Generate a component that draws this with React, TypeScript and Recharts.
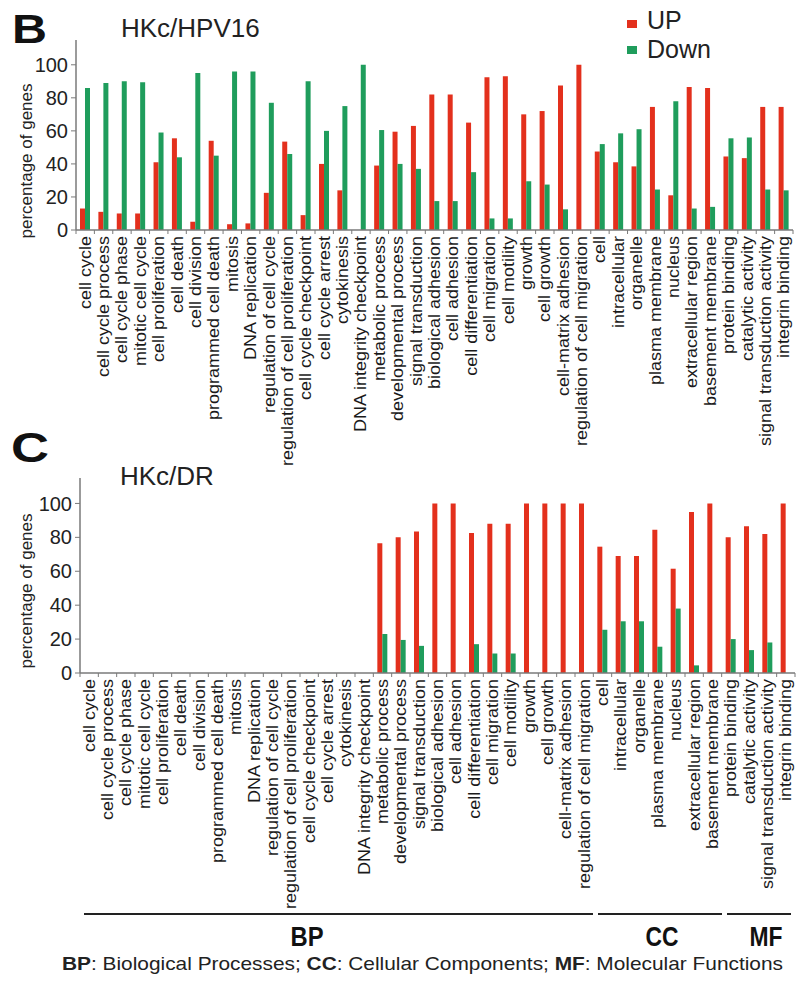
import React from 'react';
import { BarChart, Bar, XAxis, YAxis } from 'recharts';

const categories = [
  'cell cycle', 'cell cycle process', 'cell cycle phase', 'mitotic cell cycle', 'cell proliferation',
  'cell death', 'cell division', 'programmed cell death', 'mitosis', 'DNA replication',
  'regulation of cell cycle', 'regulation of cell proliferation', 'cell cycle checkpoint', 'cell cycle arrest', 'cytokinesis',
  'DNA integrity checkpoint', 'metabolic process', 'developmental process', 'signal transduction', 'biological adhesion',
  'cell adhesion', 'cell differentiation', 'cell migration', 'cell motility', 'growth',
  'cell growth', 'cell-matrix adhesion', 'regulation of cell migration', 'cell', 'intracellular',
  'organelle', 'plasma membrane', 'nucleus', 'extracellular region', 'basement membrane',
  'protein binding', 'catalytic activity', 'signal transduction activity', 'integrin binding',
];

const hpvUp = [13, 11, 10, 10, 41, 55.5, 5, 54, 3.5, 4, 22.5, 53.5, 9, 40, 24, 0, 39, 59.5, 63, 82, 82, 65, 92.5, 93, 70, 72, 87.5, 100, 47.5, 41, 38.5, 74.5, 21, 86.5, 86, 44.5, 43.5, 74.5, 74.5];
const hpvDown = [86, 89, 90, 89.5, 59, 44, 95, 45, 96, 96, 77, 46, 90, 60, 75, 100, 60.5, 40, 37, 17.5, 17.5, 35, 7, 7, 29.5, 27.5, 12.5, 0, 52, 58.5, 61, 24.5, 78, 13, 14, 55.5, 56, 24.5, 24];
const drUp = [0, 0, 0, 0, 0, 0, 0, 0, 0, 0, 0, 0, 0, 0, 0, 0, 76.5, 80, 83.5, 100, 100, 82.5, 88, 88, 100, 100, 100, 100, 74.5, 69, 69, 84.5, 61.5, 95, 100, 80, 86.5, 82, 100];
const drDown = [0, 0, 0, 0, 0, 0, 0, 0, 0, 0, 0, 0, 0, 0, 0, 0, 23, 19.5, 16, 0, 0, 17, 11.5, 11.5, 0, 0, 0, 0, 25.5, 30.5, 30.5, 15.5, 38, 4.5, 0, 20, 13.5, 18, 0];

const yTicks = [0, 20, 40, 60, 80, 100];
const seriesNames = ['UP', 'Down'];
const groupNames = ['BP', 'CC', 'MF'];
const footnote = [
  { b: 'BP', t: ': Biological Processes; ' },
  { b: 'CC', t: ': Cellular Components; ' },
  { b: 'MF', t: ': Molecular Functions' },
];

const RED = '#e3301d';
const GREEN = '#1f9d5c';
const AXIS = '#7a7a7a';
const FONT = '"Liberation Sans", Arial, Helvetica, sans-serif';

const hpvData = categories.map((c, i) => ({ name: c, up: hpvUp[i], down: hpvDown[i] }));
const drData = categories.map((c, i) => ({ name: c, up: drUp[i], down: drDown[i] }));

const makeTick = (step: number) => (props: any) => {
  const { x, y, payload, index } = props;
  const left = x - step / 2;
  return (
    <g>
      <line x1={left} y1={y} x2={left} y2={y + 4} stroke={AXIS} strokeWidth={1} />
      {index === categories.length - 1 && (
        <line x1={x + step / 2} y1={y} x2={x + step / 2} y2={y + 4} stroke={AXIS} strokeWidth={1} />
      )}
      <text
        transform={`translate(${x + 5.5},${y + 6}) rotate(-90) scale(1.125,1)`}
        textAnchor="end"
        fontSize={16}
        fill="#1a1a1a"
        fontFamily={FONT}
      >
        {payload.value}
      </text>
    </g>
  );
};

const yLabel = (cy: number) => () => (
  <text
    transform={`translate(32,${cy}) rotate(-90)`}
    textAnchor="middle"
    fontSize={17}
    fill="#222"
    fontFamily={FONT}
  >
    percentage of genes
  </text>
);

interface PanelProps {
  data: any[];
  top: number;
  yAxisWidth: number;
  marginTop: number;
  marginRight: number;
  xAxisHeight: number;
  labelCy: number;
}

const Panel = ({ data, top, yAxisWidth, marginTop, marginRight, xAxisHeight, labelCy }: PanelProps) => {
  const width = 800;
  const step = (width - yAxisWidth - marginRight) / categories.length;
  return (
    <div style={{ position: 'absolute', left: 0, top }}>
      <BarChart
        width={width}
        height={480}
        data={data}
        margin={{ top: marginTop, right: marginRight, left: 0, bottom: 0 }}
        barGap={0}
      >
        <XAxis
          dataKey="name"
          interval={0}
          height={xAxisHeight}
          tickLine={false}
          tickSize={0}
          tickMargin={0}
          axisLine={{ stroke: AXIS, strokeWidth: 1.5 }}
          tick={makeTick(step)}
        />
        <YAxis
          width={yAxisWidth}
          domain={[0, 115]}
          ticks={yTicks}
          interval={0}
          tickSize={5}
          tickMargin={3}
          axisLine={{ stroke: AXIS, strokeWidth: 1.5 }}
          tickLine={{ stroke: AXIS }}
          tick={{ fontSize: 20, fill: '#222', fontFamily: FONT }}
          label={{ content: yLabel(labelCy - top) } as any}
        />
        <Bar dataKey="up" name="UP" fill={RED} barSize={5} isAnimationActive={false} />
        <Bar dataKey="down" name="Down" fill={GREEN} barSize={5} isAnimationActive={false} />
      </BarChart>
    </div>
  );
};

export default function App() {
  return (
    <div
      style={{
        position: 'absolute',
        left: 0,
        top: 0,
        width: 800,
        height: 985,
        background: '#fff',
        fontFamily: FONT,
        overflow: 'hidden',
      }}
    >
      <Panel data={hpvData} top={0} yAxisWidth={76} marginTop={40} marginRight={7} xAxisHeight={250} labelCy={161} />
      <Panel data={drData} top={440} yAxisWidth={80} marginTop={38} marginRight={5} xAxisHeight={247} labelCy={591} />
      <svg
        width={800}
        height={985}
        style={{ position: 'absolute', left: 0, top: 0, pointerEvents: 'none', fontFamily: FONT }}
      >
        <text x={12} y={43} fontSize={40} fontWeight="bold" fill="#111" textLength={35} lengthAdjust="spacingAndGlyphs">B</text>
        <text x={121} y={37} fontSize={26} fill="#222">HKc/HPV16</text>
        {seriesNames.map((n, i) => (
          <g key={n}>
            <rect x={627} y={20 + i * 26} width={10} height={8} fill={i === 0 ? RED : GREEN} />
            <text x={647} y={29 + i * 29} fontSize={25} fill="#222">
              {n}
            </text>
          </g>
        ))}
        <text x={11} y={462} fontSize={42} fontWeight="bold" fill="#111" textLength={38} lengthAdjust="spacingAndGlyphs">C</text>
        <text x={120} y={485} fontSize={26} fill="#222">HKc/DR</text>
        <line x1={84} y1={914} x2={593} y2={914} stroke="#222" strokeWidth={2} />
        <line x1={598} y1={914} x2={722} y2={914} stroke="#222" strokeWidth={2} />
        <line x1={727} y1={914} x2={791} y2={914} stroke="#222" strokeWidth={2} />
        {groupNames.map((g, i) => (
          <text key={g} x={[307, 662, 766][i]} y={946} fontSize={27} fontWeight="bold" textAnchor="middle" fill="#111" textLength={33} lengthAdjust="spacingAndGlyphs">
            {g}
          </text>
        ))}
        <text x={62} y={970} fontSize={19} fill="#222" textLength={721} lengthAdjust="spacingAndGlyphs">
          {footnote.map((f) => (
            <React.Fragment key={f.b}>
              <tspan fontWeight="bold">{f.b}</tspan>
              <tspan>{f.t}</tspan>
            </React.Fragment>
          ))}
        </text>
      </svg>
    </div>
  );
}
